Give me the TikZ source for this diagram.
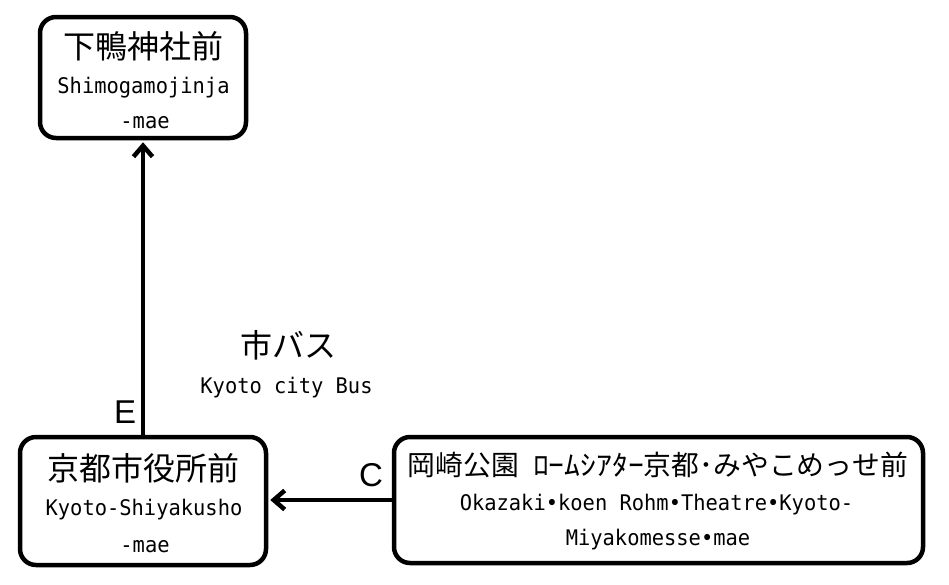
\documentclass[tikz,border=0pt]{standalone}
\usepackage{fontspec}
\setmainfont{Noto Sans CJK JP}
\newfontfamily\jp{Noto Sans CJK JP}
\newfontfamily\lat[FakeStretch=0.95]{DejaVu Sans Mono}
\newfontfamily\lab{Liberation Sans}
\usetikzlibrary{arrows.meta}
\begin{document}
\begin{tikzpicture}[x=1pt,y=-1pt,
  stopbox/.style={draw, line width=4.5pt, rounded corners=16pt, inner sep=0pt},
  jpbig/.style={font=\jp\fontsize{32}{32}\selectfont, anchor=base, inner sep=0pt},
  jpmid/.style={font=\jp\fontsize{27.8}{28}\selectfont, anchor=base, inner sep=0pt},
  latt/.style={font=\lat\fontsize{21.5}{22}\selectfont, anchor=base, inner sep=0pt},
  lett/.style={font=\lab\fontsize{33}{33}\selectfont, anchor=base west, inner sep=0pt},
  conn/.style={line width=4.5pt, -{Straight Barb[length=11pt,width=19pt]}, shorten >=2pt}
]
\useasboundingbox (0,0) rectangle (949,584);
% boxes
\node[stopbox, minimum width=206pt, minimum height=121pt] (b1) at (143,77.5) {};
\node[stopbox, minimum width=246pt, minimum height=128pt] (b2) at (143,501) {};
\node[stopbox, minimum width=529pt, minimum height=126pt] (b3) at (658.5,500) {};
% box 1 text
\node[jpbig] (t1a) at (143,58) {下鴨神社前};
\node[latt] (t1b) at (143.5,93) {Shimogamojinja};
\node[latt] (t1c) at (145,128) {-mae};
% box 2 text
\node[jpbig] (t2a) at (143.5,480) {京都市役所前};
\node[latt] (t2b) at (144,515) {Kyoto-Shiyakusho};
\node[latt] (t2c) at (145,552) {-mae};
% box 3 text
\node[jpmid] (t3a) at (658,475) {岡崎公園\hspace{0.5em}\scalebox{1.14}[1]{ﾛｰﾑｼｱﾀｰ}京都･みやこめっせ前};
\node[latt] (t3b) at (656.5,510) {Okazaki•koen Rohm•Theatre•Kyoto-};
\node[latt] (t3c) at (658,545) {Miyakomesse•mae};
% route label
\node[jpbig] (r1) at (288.5,357) {市バス};
\node[latt] (r2) at (286.5,393) {Kyoto city Bus};
% connectors
\draw[conn] (b2.north) -- (b1.south);
\draw[conn] (b3.west) -- (b2.east |- b3.west);
\node[lett] (le) at (114,423) {E};
\node[lett] (lc) at (359,486) {C};
\end{tikzpicture}
\end{document}
